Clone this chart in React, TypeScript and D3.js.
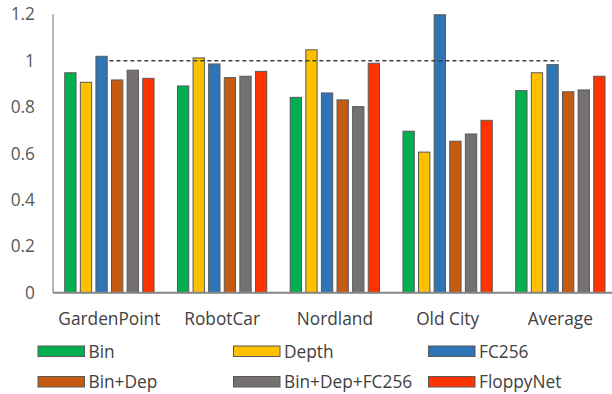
import React, { useEffect, useRef } from "react";
import * as d3 from "d3";

const categories = ["GardenPoint", "RobotCar", "Nordland", "Old City", "Average"];
const seriesNames = ["Bin", "Depth", "FC256", "Bin+Dep", "Bin+Dep+FC256", "FloppyNet"];
const seriesColors = ["#00B050", "#FFC000", "#2E75B6", "#C55A11", "#767171", "#FF3300"];
const binVals = [0.948, 0.891, 0.842, 0.696, 0.871];
const depthVals = [0.907, 1.012, 1.047, 0.606, 0.948];
const fc256Vals = [1.019, 0.986, 0.861, 1.198, 0.983];
const binDepVals = [0.917, 0.927, 0.831, 0.653, 0.866];
const binDepFcVals = [0.959, 0.933, 0.802, 0.684, 0.874];
const floppyVals = [0.924, 0.954, 0.989, 0.743, 0.933];
const yTicks = [0, 0.2, 0.4, 0.6, 0.8, 1, 1.2];
const refLine = 1;

const seriesValues = [binVals, depthVals, fc256Vals, binDepVals, binDepFcVals, floppyVals];

const W = 612;
const H = 394;
const FONT = "'Open Sans', sans-serif";
const FS = 17.3;

export default function App() {
  const ref = useRef<SVGSVGElement>(null);
  useEffect(() => {
    document.body.style.margin = "0";
    const svg = d3.select(ref.current);
    svg.selectAll("*").remove();

    const x0 = d3.scaleBand<string>().domain(categories).range([53, 53 + 5 * 112.75]).padding(0);
    const x1 = d3
      .scaleBand<string>()
      .domain(seriesNames)
      .range([-46.8, 46.8])
      .paddingInner(0.276)
      .paddingOuter(0.138);
    const y = d3.scaleLinear().domain([0, 1.2]).range([292.7, 14.3]);

    // y tick labels
    svg
      .append("g")
      .selectAll("text")
      .data(yTicks)
      .join("text")
      .attr("x", 35)
      .attr("y", (d) => y(d))
      .attr("dy", "0.35em")
      .attr("text-anchor", "end")
      .attr("font-family", FONT)
      .attr("font-size", FS)
      .attr("fill", "#595959")
      .text((d) => d3.format("")(d));

    // bars
    const groups = svg
      .append("g")
      .selectAll("g")
      .data(categories)
      .join("g")
      .attr("transform", (c) => `translate(${x0(c)! + x0.bandwidth() / 2},0)`);

    groups
      .selectAll("rect")
      .data((c, i) => seriesNames.map((s, k) => ({ s, v: seriesValues[k][i], k })))
      .join("rect")
      .attr("x", (d) => x1(d.s)!)
      .attr("width", x1.bandwidth())
      .attr("y", (d) => y(d.v))
      .attr("height", (d) => y(0) - y(d.v))
      .attr("fill", (d) => seriesColors[d.k])
      .attr("stroke", "#595959")
      .attr("stroke-width", 1);

    // axes lines
    svg
      .append("line")
      .attr("x1", 53)
      .attr("x2", 53)
      .attr("y1", y(1.2))
      .attr("y2", y(0))
      .attr("stroke", "#868686")
      .attr("stroke-width", 1.2);
    svg
      .append("line")
      .attr("x1", 53)
      .attr("x2", W)
      .attr("y1", y(0))
      .attr("y2", y(0))
      .attr("stroke", "#868686")
      .attr("stroke-width", 2);

    // dashed reference line
    svg
      .append("line")
      .attr("x1", x0(categories[0])! + x0.bandwidth() / 2)
      .attr("x2", x0(categories[categories.length - 1])! + x0.bandwidth() / 2 - 2)
      .attr("y1", y(refLine))
      .attr("y2", y(refLine))
      .attr("stroke", "#404040")
      .attr("stroke-width", 1.5)
      .attr("stroke-dasharray", "4,3");

    // category labels
    svg
      .append("g")
      .selectAll("text")
      .data(categories)
      .join("text")
      .attr("x", (c) => x0(c)! + x0.bandwidth() / 2)
      .attr("y", 325)
      .attr("text-anchor", "middle")
      .attr("font-family", FONT)
      .attr("font-size", FS)
      .attr("fill", "#404040")
      .text((c) => c);

    // legend
    const legX = [38, 233.5, 428.5];
    const legY = [346, 376.5];
    const leg = svg
      .append("g")
      .selectAll("g")
      .data(seriesNames)
      .join("g")
      .attr("transform", (s, i) => `translate(${legX[i % 3]},${legY[Math.floor(i / 3)]})`);
    leg
      .append("rect")
      .attr("width", 46.5)
      .attr("height", 10.5)
      .attr("fill", (s, i) => seriesColors[i])
      .attr("stroke", "#595959")
      .attr("stroke-width", 1);
    leg
      .append("text")
      .attr("x", 50.5)
      .attr("y", 5.5)
      .attr("dy", "0.35em")
      .attr("font-family", FONT)
      .attr("font-size", FS)
      .attr("fill", "#404040")
      .text((s) => s);
  }, []);

  return (
    <svg
      ref={ref}
      width={W}
      height={H}
      style={{ position: "absolute", left: 0, top: 0, background: "#fff" }}
    />
  );
}
